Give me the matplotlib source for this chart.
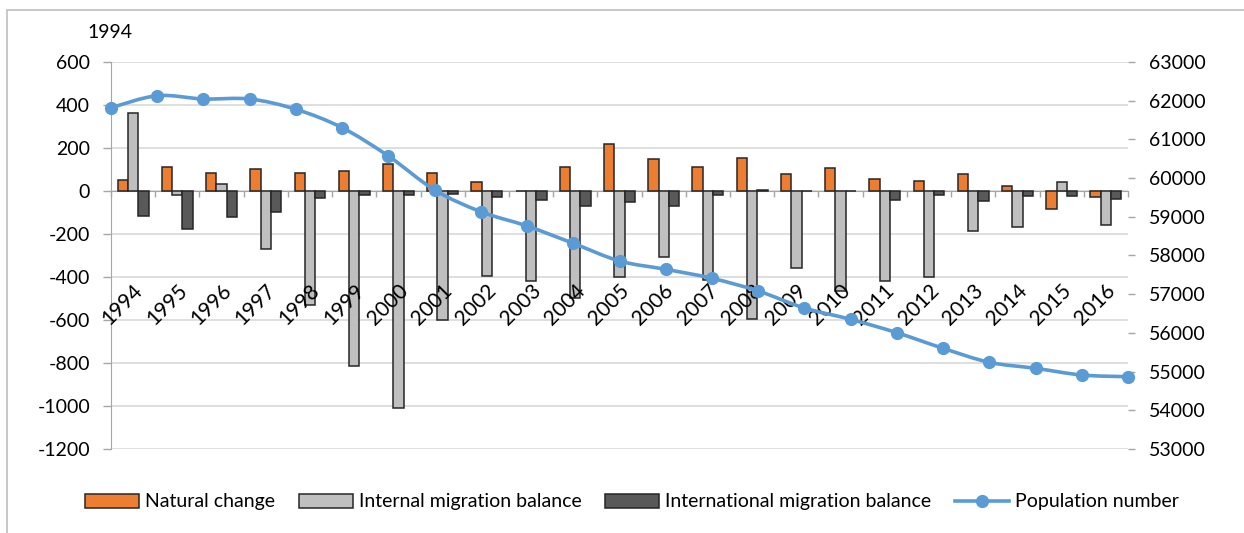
import numpy as np
import matplotlib.pyplot as plt
from matplotlib.path import Path
from matplotlib.patches import PathPatch, Patch, Rectangle
from matplotlib.lines import Line2D

plt.rcParams['font.family'] = ['Lato', 'DejaVu Sans']
plt.rcParams['font.size'] = 14
plt.rcParams['axes.unicode_minus'] = False

years = [str(y) for y in range(1994, 2017)]
natural_change = [51, 110, 85, 104, 84, 91, 127, 84, 42, 2, 112, 218, 149, 112, 153,
                  78, 108, 56, 48, 78, 22, -85, -26]
internal_migration = [361, -19, 33, -270, -530, -812, -1009, -600, -394, -419, -498, -400,
                      -305, -415, -595, -357, -465, -419, -401, -184, -169, 43, -158]
international_migration = [-115, -178, -119, -98, -31, -20, -19, -15, -26, -40, -71, -53,
                           -70, -20, 3, 2, 1, -43, -20, -47, -25, -22, -36]
population = [61819, 62129, 62044, 62044, 61778, 61302, 60571, 59693, 59132, 58762,
              58315, 57858, 57643, 57411, 57083, 56643, 56351, 56005, 55602, 55240,
              55085, 54912, 54868]

orange = '#ED7D31'
light = '#BFBFBF'
dark = '#595959'
blue = '#5B9BD5'
edge = '#262626'
axis_grey = '#A6A6A6'
grid_grey = '#D9D9D9'

fig = plt.figure(figsize=(12.44, 5.33), dpi=100)
rect = [111 / 1244, 84 / 533, 1017 / 1244, 387 / 533]
ax = fig.add_axes(rect)

x = np.arange(len(years))
w = 0.233
bar_kw = dict(width=w, edgecolor=edge, linewidth=1.1, zorder=3)
ax.bar(x - w, natural_change, color=orange, **bar_kw)
ax.bar(x, internal_migration, color=light, **bar_kw)
ax.bar(x + w, international_migration, color=dark, **bar_kw)

ax.set_xlim(-0.5, len(years) - 0.5)
ax.set_ylim(-1200, 600)
ax.set_yticks(np.arange(-1200, 601, 200))
ax.yaxis.grid(True, color=grid_grey, linewidth=1.2, zorder=0)
ax.set_axisbelow(True)

for s in ['top', 'right']:
    ax.spines[s].set_visible(False)
ax.spines['left'].set_color(axis_grey)
ax.spines['bottom'].set_color(axis_grey)
ax.spines['bottom'].set_position(('data', 0))
ax.spines['bottom'].set_zorder(2)
ax.tick_params(axis='y', length=6, width=1, color=axis_grey, pad=9, labelcolor='black')
ax.set_xticks(np.arange(-0.5, len(years)), labels=[])
ax.tick_params(axis='x', length=4, width=1, color=axis_grey, direction='out')

# year labels sit inside the plot, slanted, below the zero line
for i, yr in enumerate(years):
    ax.text(i + 0.15, -450, yr, rotation=45, ha='right', va='center',
            rotation_mode='anchor', fontsize=15, zorder=4)

# secondary axes for population, spanning edge to edge
ax2 = fig.add_axes(rect, frameon=False)
ax2.set_xlim(0, len(years) - 1)
ax2.set_ylim(53000, 63000)
ax2.set_yticks(np.arange(53000, 63001, 1000))
ax2.yaxis.tick_right()
ax2.xaxis.set_visible(False)
ax2.spines['right'].set_visible(True)
ax2.spines['right'].set_color(axis_grey)
ax2.tick_params(axis='y', length=5, width=1, color=axis_grey, pad=10)

# smoothed line through the population points (Catmull-Rom as cubic Bezier)
px = np.arange(len(population), dtype=float)
py = np.array(population, dtype=float)
pts = np.column_stack([px, py])
verts = [pts[0]]
codes = [Path.MOVETO]
n = len(pts)
for i in range(n - 1):
    p0 = pts[max(i - 1, 0)]
    p1 = pts[i]
    p2 = pts[i + 1]
    p3 = pts[min(i + 2, n - 1)]
    verts += [p1 + (p2 - p0) / 6, p2 - (p3 - p1) / 6, p2]
    codes += [Path.CURVE4] * 3
ax2.add_patch(PathPatch(Path(verts, codes), facecolor='none', edgecolor=blue,
                        linewidth=2.6, capstyle='round', zorder=5))
ax2.plot(px, py, 'o', color=blue, markersize=8.5, zorder=6, clip_on=False)

fig.text(110 / 1244, 1 - 33 / 533, '1994', ha='center', va='center')

handles = [
    Patch(facecolor=orange, edgecolor=edge, linewidth=1.1),
    Patch(facecolor=light, edgecolor=edge, linewidth=1.1),
    Patch(facecolor=dark, edgecolor=edge, linewidth=1.1),
    Line2D([], [], color=blue, linewidth=2.6, marker='o', markersize=8.5),
]
labels = ['Natural change', 'Internal migration balance',
          'International migration balance', 'Population number']
fig.legend(handles, labels, loc='center', bbox_to_anchor=(0.508, 1 - 502 / 533),
           ncol=4, frameon=False, handlelength=2.8, handletextpad=0.3,
           columnspacing=1.2, borderaxespad=0)

fig.add_artist(Rectangle((7 / 1244, -0.1), 1.2, 1 - 10 / 533 + 0.1,
                         transform=fig.transFigure, fill=False,
                         edgecolor='#BFBFBF', linewidth=1.2))

fig.savefig('out.png', dpi=100)
